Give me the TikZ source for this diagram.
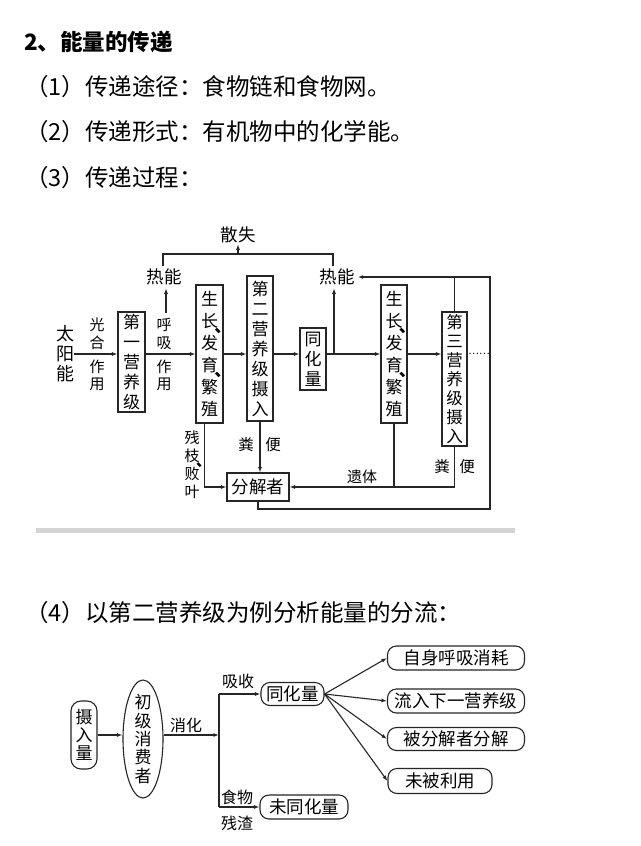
\documentclass[tikz,border=0pt]{standalone}
\usepackage{fontspec}
\newfontfamily\cjk{Noto Sans CJK SC}
\usetikzlibrary{arrows.meta,shapes.geometric}
\newcommand\myfs[2]{\cjk\fontsize{#1}{#2}\selectfont}
\newcommand\dun{\rlap{\kern-0.22em\raisebox{-0.32em}[0pt][0pt]{\bfseries 、}}}
\begin{document}
\begin{tikzpicture}[x=1pt,y=-1pt,
  ln/.style={line width=1.1pt,draw=black!85},
  arr/.style={ln,-{Latex[length=5.5pt,width=4pt]}},
  vbox/.style={draw=black!85,line width=1.1pt,inner sep=0pt,align=center},
  tx/.style={inner sep=0pt,align=center},
  heat/.style={inner sep=3pt,font=\myfs{17.5}{20}},
  lbl/.style={inner sep=0pt,align=center,font=\myfs{15}{18}},
  rbox/.style={draw=black!85,line width=1.1pt,rounded corners=9pt,inner sep=0pt,font=\myfs{17.5}{20}},
  head/.style={anchor=west,inner sep=0pt,font=\myfs{23.5}{26}}
]
\path[use as bounding box] (0,0) rectangle (640,846);
\fill[white] (0,0) rectangle (640,846);

% headings
\node[head,font=\cjk\bfseries\fontsize{22.5}{26}\selectfont] (title) at (24,42) {2、能量的传递};
\node[head] (l1) at (25,87) {（1）传递途径：食物链和食物网。};
\node[head] (l2) at (25,132) {（2）传递形式：有机物中的化学能。};
\node[head] (l3) at (25,178) {（3）传递过程：};
\node[head] (l4) at (25,613) {（4）以第二营养级为例分析能量的分流：};

% ---------- diagram 1 ----------
\node[tx,font=\myfs{18}{20}] (sun) at (65,354) {太\\阳\\能};
\node[vbox,font=\myfs{17}{20},minimum width=27pt,minimum height=100pt] (b1) at (131.5,362) {第\\一\\营\\养\\级};
\node[vbox,font=\myfs{17}{22},minimum width=27pt,minimum height=138pt] (g1) at (209.5,354) {生\\长\dun\\发\\育\dun\\繁\\殖};
\node[vbox,font=\myfs{17}{20},minimum width=26pt,minimum height=145pt] (b2) at (260,348.5) {第\\二\\营\\养\\级\\摄\\入};
\node[vbox,font=\myfs{17}{20},minimum width=26pt,minimum height=62pt] (th1) at (313,359) {同\\化\\量};
\node[vbox,font=\myfs{17}{22},minimum width=26pt,minimum height=138pt] (g2) at (394,354) {生\\长\dun\\发\\育\dun\\繁\\殖};
\node[vbox,font=\myfs{16.5}{19},minimum width=25pt,minimum height=134pt] (b3) at (454.5,379) {第\\三\\营\\养\\级\\摄\\入};
\node[tx,font=\myfs{10}{12}] (dots) at (479,354) {……};
\node[heat] (heatL) at (164,277) {热能};
\node[heat] (heatR) at (337,277) {热能};
\node[tx,inner sep=1pt,font=\myfs{17.5}{20}] (loss) at (238,235) {散失};
\node[vbox,font=\myfs{17.5}{20},minimum width=62pt,minimum height=28pt] (fjz) at (258,487) {分解者};

\node[lbl] (gh) at (97,334) {光\\合};
\node[lbl,font=\myfs{15}{17}] (zy1) at (97,375) {作\\用};
\node[lbl] (hx) at (164,334) {呼\\吸};
\node[lbl,font=\myfs{15}{17}] (zy2) at (164,375) {作\\用};
\node[lbl] (cz) at (192,465) {残\\枝\dun\\败\\叶};
\node[lbl,font=\myfs{15.5}{18}] (fen1) at (246,445) {粪};
\node[lbl,font=\myfs{15.5}{18}] (bian1) at (273,445) {便};
\node[lbl,font=\myfs{15.5}{18}] (fen2) at (442,467) {粪};
\node[lbl,font=\myfs{15.5}{18}] (bian2) at (467,467) {便};
\node[lbl] (yt) at (362,477) {遗体};

\draw[arr] (sun.east) -- (sun.east -| b1.west);
\draw[arr] (b1.east |- g1.west) -- (g1.west);
\draw[arr] (g1.east) -- (g1.east -| b2.west);
\draw[arr] (b2.east |- g1.east) -- (g1.east -| th1.west);
\draw[arr] (th1.east |- g2.west) -- (g2.west);
\draw[arr] (g2.east) -- (g2.east -| b3.west);
\coordinate (jA) at (334,354);
\draw[arr] (jA) -- (jA |- heatR.south);
\coordinate (resp) at (166,313);
\draw[arr] (resp) -- (resp |- heatL.south);
\coordinate (tl) at (163,254);
\coordinate (tr) at (333,254);
\draw[ln] (tl |- heatL.north) -- (tl) -- (tr) -- (tr |- heatR.north);
\draw[arr] (loss.south |- tl) -- (loss.south);
\coordinate (rt) at (490,277);
\coordinate (rb) at (490,509);
\draw[arr] (fjz.south) -- (fjz.south |- rb) -- (rb) -- (rt) -- (heatR.east);
\draw[ln] (b3.north) -- (b3.north |- rt);
\draw[arr] (b2.south) -- (b2.south |- fjz.north);
\draw[arr] ([xshift=-5pt]g1.south) |- (fjz.west);
\draw[arr] (g2.south) |- (fjz.east);
\draw[ln] (b3.south) |- (g2.south |- fjz.east);

% separator
\fill[black!17] (36,528) rectangle (515,533);

% ---------- diagram 2 ----------
\node[draw=black!85,line width=1.1pt,rounded corners=10pt,inner sep=0pt,align=center,
      font=\myfs{17}{18},minimum width=26pt,minimum height=68pt] (sr) at (84,735) {摄\\入\\量};
\node[draw=black!85,line width=1.1pt,ellipse,minimum width=40pt,minimum height=118pt,inner sep=0pt] (ell) at (143,739) {};
\node[tx,font=\myfs{17}{18.3}] (cjxf) at (ell.center) {初\\级\\消\\费\\者};
\draw[arr] (sr.east) -- (sr.east -| ell.west);
\coordinate (br) at (219,735);
\draw[arr] (ell.east |- br) -- (br);
\node[rbox,minimum width=63pt,minimum height=23pt] (th2) at (292.5,694) {同化量};
\node[rbox,minimum width=88pt,minimum height=24pt] (wth) at (304,807) {未同化量};
\draw[arr] (br |- th2.west) -- (th2.west);
\draw[ln] (br |- th2.west) -- (br |- wth.west);
\draw[arr] (br |- wth.west) -- (wth.west);
\node[lbl,font=\myfs{16}{18}] (xh) at (186,725) {消化};
\node[lbl,font=\myfs{16}{18}] (xs) at (238,681) {吸收};
\node[lbl,font=\myfs{16}{18}] (sw) at (237,797) {食物};
\node[lbl,font=\myfs{16}{18}] (cc) at (237,823) {残渣};

\node[rbox,minimum width=137pt,minimum height=24pt] (r1) at (456,658) {自身呼吸消耗};
\node[rbox,minimum width=137pt,minimum height=24pt] (r2) at (456,701) {流入下一营养级};
\node[rbox,minimum width=137pt,minimum height=23pt] (r3) at (456,739) {被分解者分解};
\node[rbox,minimum width=104pt,minimum height=25pt] (r4) at (440,781) {未被利用};
\draw[arr] (th2.east) -- (r1.west);
\draw[arr] (th2.east) -- (r2.west);
\draw[arr] (th2.east) -- (r3.west);
\draw[arr] (th2.east) -- (r4.west);
\end{tikzpicture}
\end{document}
